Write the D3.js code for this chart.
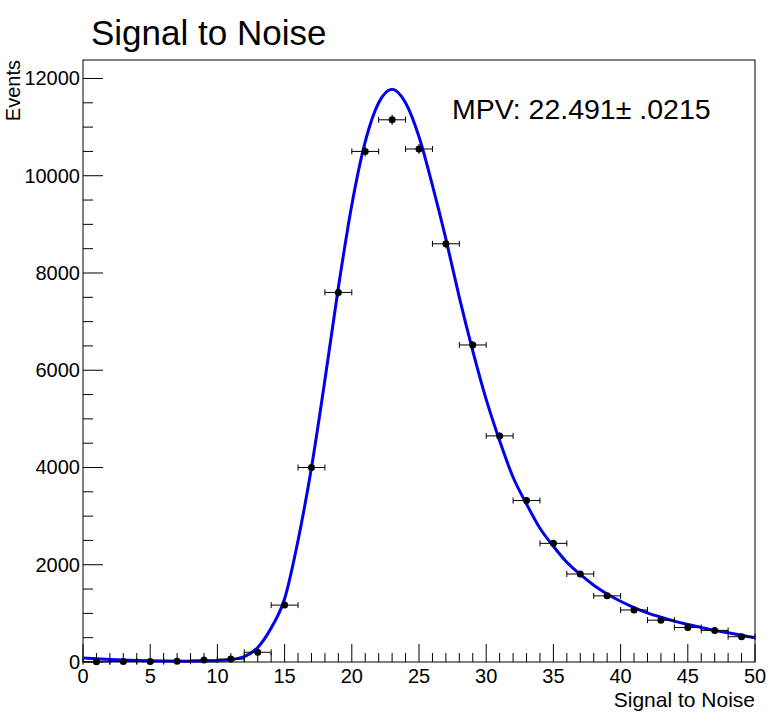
<!DOCTYPE html>
<html><head><meta charset="utf-8">
<script src="https://cdn.jsdelivr.net/npm/d3@7"></script>
<style>body{margin:0;background:#fff}text{font-family:"Liberation Sans",Arial,sans-serif}</style>
</head><body><div id="vis"></div>
<script>
// bin centres and contents (bin width 2)
const binCenters = [1,3,5,7,9,11,13,15,17,19,21,23,25,27,29,31,33,35,37,39,41,43,45,47,49];
const counts = [5,10,10,15,40,60,200,1170,4000,7600,10500,11150,10550,8600,6520,4650,3320,2440,1810,1360,1070,860,710,650,520];
// fitted curve
const fitX = [0,2,4,6,8,10,11,12,13,14,15,16,17,18,19,20,21,22,23,24,25,26,27,28,29,30,31,32,33,34,35,36,37,38,39,40,41,42,43,44,45,46,47,48,49,50];
const fitY = [80,50,30,20,15,25,50,110,300,700,1300,2500,4000,5800,7700,9400,10700,11500,11780,11500,10800,9800,8700,7500,6400,5400,4550,3800,3250,2750,2380,2050,1800,1580,1400,1250,1120,1010,920,840,770,710,650,600,550,500];
const xTicks = [0,5,10,15,20,25,30,35,40,45,50];
const yTicks = [0,2000,4000,6000,8000,10000,12000];

const W = 773, H = 723;
const L = 83, R = 755, T = 60, B = 662;
const svg = d3.select("#vis").append("svg").attr("width", W).attr("height", H);

const x = d3.scaleLinear().domain([0, 50]).range([L, R]);
const y = d3.scaleLinear().domain([0, 12380]).range([B, T]);

// frame
svg.append("rect").attr("x", L).attr("y", T).attr("width", R - L).attr("height", B - T)
  .attr("fill", "none").attr("stroke", "#000").attr("stroke-width", 1);

// x ticks (inward, upward)
d3.range(0, 51, 1).forEach(v => {
  const major = v % 5 === 0;
  svg.append("line").attr("x1", x(v)).attr("x2", x(v)).attr("y1", B).attr("y2", B - (major ? 18 : 9))
    .attr("stroke", "#000");
});
svg.selectAll(".xl").data(xTicks).enter().append("text")
  .attr("x", d => x(d)).attr("y", B + 21).attr("text-anchor", "middle")
  .attr("font-size", 20).text(d => d);

// y ticks (inward, rightward)
d3.range(0, 12001, 500).forEach(v => {
  const major = v % 2000 === 0;
  svg.append("line").attr("x1", L).attr("x2", L + (major ? 20 : 10)).attr("y1", y(v)).attr("y2", y(v))
    .attr("stroke", "#000");
});
svg.selectAll(".yl").data(yTicks).enter().append("text")
  .attr("x", L - 3).attr("y", d => y(d) + 7).attr("text-anchor", "end")
  .attr("font-size", 20).text(d => d);

// labels
svg.append("text").attr("x", R).attr("y", 707).attr("text-anchor", "end").attr("font-size", 21).text("Signal to Noise");
svg.append("text").attr("transform", `translate(20,${T})rotate(-90)`).attr("text-anchor", "end")
  .attr("font-size", 20).text("Events");
svg.append("text").attr("x", 91).attr("y", 45).attr("font-size", 35).text("Signal to Noise");
svg.append("text").attr("x", 452).attr("y", 119).attr("font-size", 28.5).text("MPV: 22.491\u00b1 .0215");

// fit curve
svg.append("path").datum(fitX.map((v, i) => [v, fitY[i]]))
  .attr("fill", "none").attr("stroke", "#0000ee").attr("stroke-width", 3)
  .attr("d", d3.line().x(d => x(d[0])).y(d => y(d[1])).curve(d3.curveMonotoneX));

// data points with errors
const pts = svg.append("g");
binCenters.forEach((c, i) => {
  const n = counts[i], e = Math.sqrt(n);
  const g = pts.append("g").attr("stroke", "#000").attr("stroke-width", 1);
  g.append("line").attr("x1", x(c - 1)).attr("x2", x(c + 1)).attr("y1", y(n)).attr("y2", y(n));
  g.append("line").attr("x1", x(c - 1)).attr("x2", x(c - 1)).attr("y1", y(n) - 3).attr("y2", y(n) + 3);
  g.append("line").attr("x1", x(c + 1)).attr("x2", x(c + 1)).attr("y1", y(n) - 3).attr("y2", y(n) + 3);
  g.append("line").attr("x1", x(c)).attr("x2", x(c)).attr("y1", y(n + e)).attr("y2", y(n - e));
  pts.append("circle").attr("cx", x(c)).attr("cy", y(n)).attr("r", 3.5).attr("fill", "#000");
});
</script></body></html>
